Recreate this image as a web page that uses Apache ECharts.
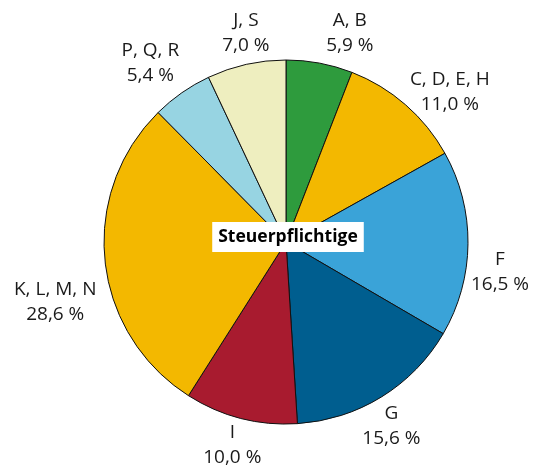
<!DOCTYPE html>
<html>
<head>
<meta charset="utf-8">
<script src="https://cdn.jsdelivr.net/npm/echarts@6/dist/echarts.min.js"></script>
<style>html,body{margin:0;padding:0;background:#fff}#c{width:544px;height:468px}</style>
</head>
<body>
<div id="c"></div>
<script>
// Data
const categories = ['A, B', 'C, D, E, H', 'F', 'G', 'I', 'K, L, M, N', 'P, Q, R', 'J, S'];
const shares = [5.9, 11.0, 16.5, 15.6, 10.0, 28.6, 5.4, 7.0];
const centerTitle = 'Steuerpflichtige';

// Styles / layout
const colors = ['#2e9b3d', '#f3b800', '#3aa3d8', '#005e8f', '#a81b2f', '#f3b800', '#97d4e2', '#eeeebf'];
const labelNudge = [[24, 3], [22, 13], [-2, 28], [-8, 0], [0, -6], [-16, 37], [-12, -2], [7, 2]];
const CX = 286, CY = 242, R = 182, LR = 216;

const total = shares.reduce((a, b) => a + b, 0);
const mids = [];
let acc = 0;
shares.forEach(v => { mids.push((acc + v / 2) / total * 2 * Math.PI); acc += v; });

const fmt = v => v.toFixed(1).replace('.', ',') + ' %';

const chart = echarts.init(document.getElementById('c'), null, { renderer: 'canvas' });
chart.setOption({
  animation: false,
  backgroundColor: '#ffffff',
  series: [{
    type: 'pie',
    center: [CX, CY],
    radius: [0, R],
    startAngle: 90,
    clockwise: true,
    avoidLabelOverlap: false,
    itemStyle: { borderColor: '#111', borderWidth: 1 },
    emphasis: { disabled: true },
    label: {
      show: true,
      position: 'outside',
      formatter: p => p.name + '\n' + fmt(p.value),
      fontFamily: 'Open Sans',
      fontSize: 19,
      lineHeight: 25,
      color: '#1a1a1a',
      align: 'center'
    },
    labelLine: { show: false },
    labelLayout: function (p) {
      const i = p.dataIndex, a = mids[i];
      return {
        x: CX + LR * Math.sin(a) + labelNudge[i][0],
        y: CY - LR * Math.cos(a) + labelNudge[i][1],
        align: 'center',
        verticalAlign: 'middle'
      };
    },
    data: categories.map((c, i) => ({ name: c, value: shares[i], itemStyle: { color: colors[i] } }))
  }],
  graphic: [{
    type: 'text',
    x: CX + 2,
    y: CY - 5,
    z: 100,
    style: {
      text: centerTitle,
      font: 'bold 17.5px "Open Sans"',
      fill: '#000',
      align: 'center',
      verticalAlign: 'middle',
      backgroundColor: '#fff',
      padding: [6, 6, 6, 6]
    }
  }]
});
</script>
</body>
</html>
